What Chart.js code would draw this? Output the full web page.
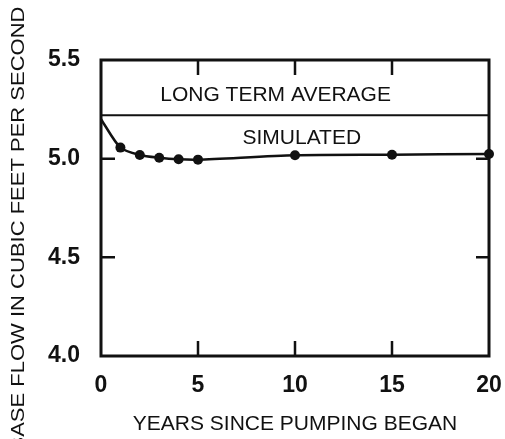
<!DOCTYPE html>
<html>
<head>
<meta charset="utf-8">
<script src="https://cdn.jsdelivr.net/npm/chart.js@4"></script>
<style>
  body { margin: 0; background: #fff; }
</style>
</head>
<body>
<canvas id="baseFlowChart" width="505" height="439"></canvas>
<script>
// values
const years = [0, 1, 2, 3, 4, 5, 10, 15, 20];
const simulatedFlow = [5.20, 5.056, 5.019, 5.005, 4.997, 4.995, 5.017, 5.020, 5.024];
const averageYears = [0, 20];
const averageFlow = [5.22, 5.22];
const xTickValues = [0, 5, 10, 15, 20];
const yTickValues = [4.0, 4.5, 5.0, 5.5];

const ink = '#111';
const fontFamily = '"Liberation Sans", Arial, Helvetica, sans-serif';

// frame, inward ticks, in-plot labels and the rotated y title
const figureDecor = {
    id: 'figureDecor',
    afterDatasetsDraw(chart) {
        const ctx = chart.ctx;
        const a = chart.chartArea;
        const x = chart.scales.x;
        const y = chart.scales.y;
        ctx.save();
        ctx.strokeStyle = ink;
        ctx.lineWidth = 3;
        ctx.strokeRect(a.left, a.top, a.right - a.left, a.bottom - a.top);

        ctx.lineWidth = 2.5;
        ctx.beginPath();
        xTickValues.slice(1, -1).forEach(v => {
            const px = x.getPixelForValue(v);
            ctx.moveTo(px, a.bottom);
            ctx.lineTo(px, a.bottom - 15);
            ctx.moveTo(px, a.top);
            ctx.lineTo(px, a.top + 15);
        });
        yTickValues.slice(1, -1).forEach(v => {
            const py = y.getPixelForValue(v);
            ctx.moveTo(a.left, py);
            ctx.lineTo(a.left + 14, py);
            ctx.moveTo(a.right, py);
            ctx.lineTo(a.right - 13, py);
        });
        ctx.stroke();

        ctx.fillStyle = ink;
        ctx.textAlign = 'center';
        ctx.textBaseline = 'middle';
        ctx.font = '21px ' + fontFamily;
        ctx.fillText('LONG TERM AVERAGE', x.getPixelForValue(9.0), y.getPixelForValue(5.32));
        ctx.fillText('SIMULATED', x.getPixelForValue(10.35), y.getPixelForValue(5.105));

        ctx.translate(19, 229);
        ctx.rotate(-Math.PI / 2);
        ctx.scale(1, 0.85);
        ctx.font = '22px ' + fontFamily;
        ctx.fillText('BASE FLOW IN CUBIC FEET PER SECOND', 0, 0);
        ctx.restore();
    }
};

const ctx = document.getElementById('baseFlowChart').getContext('2d');
new Chart(ctx, {
    type: 'line',
    data: {
        datasets: [{
            label: 'Simulated',
            data: years.map((yr, i) => ({ x: yr, y: simulatedFlow[i] })),
            borderColor: ink,
            backgroundColor: ink,
            borderWidth: 2.5,
            pointRadius: years.map(yr => yr === 0 ? 0 : 5),
            pointBorderWidth: 0,
            tension: 0.25,
            clip: false
        }, {
            label: 'Long term average',
            data: averageYears.map((yr, i) => ({ x: yr, y: averageFlow[i] })),
            borderColor: ink,
            borderWidth: 2,
            pointRadius: 0
        }]
    },
    options: {
        responsive: false,
        animation: false,
        layout: { padding: { top: 60, right: 16, left: 0, bottom: 0 } },
        plugins: {
            legend: { display: false },
            tooltip: { enabled: false }
        },
        scales: {
            x: {
                type: 'linear',
                min: 0,
                max: 20,
                afterFit: s => { s.height = 83; s.paddingLeft = 0; s.paddingRight = 0; },
                afterBuildTicks: s => { s.ticks = xTickValues.map(v => ({ value: v })); },
                grid: { display: false, drawTicks: false },
                border: { display: false },
                ticks: {
                    padding: 16,
                    color: ink,
                    font: { family: fontFamily, size: 23, weight: 'bold' }
                },
                title: {
                    display: true,
                    text: 'YEARS SINCE PUMPING BEGAN',
                    color: ink,
                    padding: { top: 0, bottom: 2 },
                    font: { family: fontFamily, size: 21 }
                }
            },
            y: {
                min: 4.0,
                max: 5.5,
                afterFit: s => { s.width = 101; s.paddingTop = 0; s.paddingBottom = 0; },
                afterBuildTicks: s => { s.ticks = yTickValues.map(v => ({ value: v })); },
                grid: { display: false, drawTicks: false },
                border: { display: false },
                ticks: {
                    padding: 21,
                    color: ink,
                    font: { family: fontFamily, size: 23, weight: 'bold' },
                    callback: v => v.toFixed(1)
                }
            }
        }
    },
    plugins: [figureDecor]
});
</script>
</body>
</html>
